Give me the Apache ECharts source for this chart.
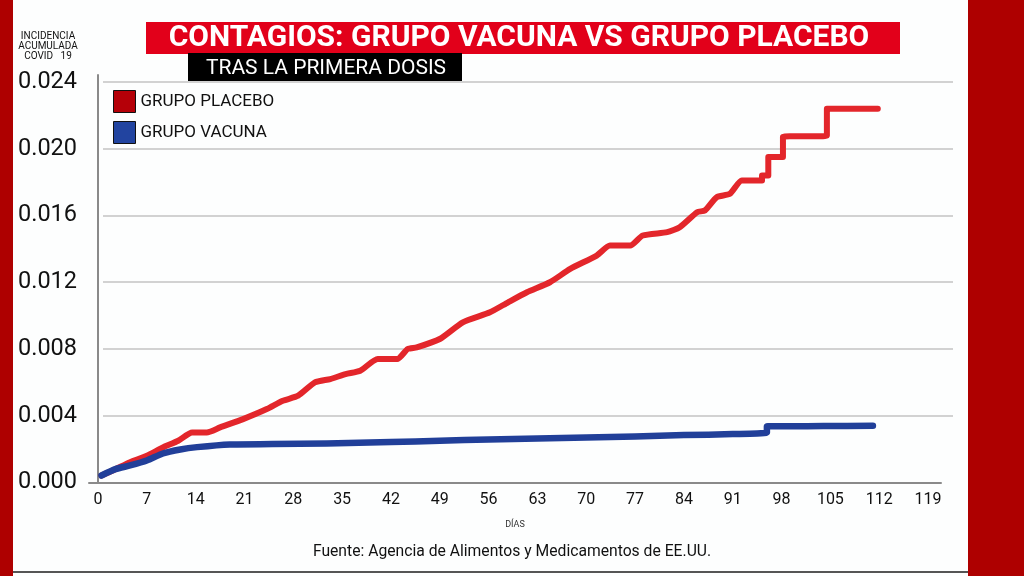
<!DOCTYPE html>
<html>
<head>
<meta charset="utf-8">
<script src="https://cdn.jsdelivr.net/npm/echarts@6/dist/echarts.min.js"></script>
<style>
html,body{margin:0;padding:0;background:#fdfefe;}
#c{width:1024px;height:576px;}
</style>
</head>
<body>
<div id="c"></div>
<script>
const titleText = 'CONTAGIOS: GRUPO VACUNA VS GRUPO PLACEBO';
const subtitleText = 'TRAS LA PRIMERA DOSIS';
const yAxisName = 'INCIDENCIA\nACUMULADA\nCOVID   19';
const xAxisName = 'DÍAS';
const sourceText = 'Fuente: Agencia de Alimentos y Medicamentos de EE.UU.';
const seriesNames = ['GRUPO PLACEBO', 'GRUPO VACUNA'];

const xTicks = [0, 7, 14, 21, 28, 35, 42, 49, 56, 63, 70, 77, 84, 91, 98, 105, 112, 119];
const yTicks = [0, 0.004, 0.008, 0.012, 0.016, 0.020, 0.024];

const placeboDays = [0.5, 2.5, 4.6, 7, 9.3, 11.5, 13.5, 15.6, 17.5, 20.8, 24.2, 26.5, 28.7, 31.1, 33.3, 35.5, 37.6, 40.1, 42.9, 44.4, 45.7, 49, 52.3, 56.2, 58.8, 61.5, 64.8, 67.7, 71.5, 73.4, 76.3, 78.1, 81.6, 83.4, 85.9, 87.0, 88.7, 90.6, 92.3, 95.2, 95.2, 96.1, 96.1, 98.2, 98.2, 104.5, 104.5, 111.8];
const placeboValues = [0.00042, 0.0008, 0.00122, 0.0016, 0.0021, 0.0025, 0.0030, 0.0030, 0.0033, 0.0038, 0.0044, 0.0049, 0.0052, 0.0060, 0.0062, 0.0065, 0.0067, 0.0074, 0.0074, 0.0080, 0.0081, 0.0086, 0.0096, 0.0102, 0.0108, 0.0114, 0.0120, 0.0128, 0.0136, 0.0142, 0.0142, 0.0148, 0.0150, 0.0153, 0.0162, 0.0163, 0.0171, 0.0173, 0.0181, 0.0181, 0.0184, 0.0184, 0.0195, 0.0195, 0.0207, 0.0208, 0.0224, 0.0224];

const vacunaDays = [0.5, 2.5, 4.6, 7, 9.3, 11.8, 14.2, 18.9, 25, 32.8, 42, 49, 56, 63, 70, 77, 84, 91, 95.9, 95.9, 104, 111.1];
const vacunaValues = [0.00042, 0.0008, 0.00102, 0.00132, 0.00174, 0.00198, 0.00212, 0.00228, 0.0023, 0.00234, 0.00242, 0.0025, 0.00258, 0.00264, 0.0027, 0.00276, 0.00284, 0.0029, 0.0030, 0.00336, 0.00338, 0.0034];

const pairs = (xs, ys) => xs.map((x, i) => [x, ys[i]]);

const chart = echarts.init(document.getElementById('c'), null, {renderer: 'canvas'});
const FONT = 'Roboto, sans-serif';

chart.setOption({
  backgroundColor: '#fdfefe',
  animation: false,
  textStyle: {fontFamily: FONT},
  grid: [
    {left: 89, right: 83, top: 75, bottom: 93.5, containLabel: false},
    {left: 103, right: 71, top: 82, bottom: 160.5, containLabel: false}
  ],
  xAxis: [
    {
      type: 'value', gridIndex: 0, min: -1.29, max: 120.86,
      name: xAxisName, nameLocation: 'middle', nameGap: 38,
      nameTextStyle: {fontSize: 9, color: '#333', fontFamily: FONT},
      axisLine: {show: true, lineStyle: {color: '#8a8a8a', width: 2}},
      axisTick: {show: false},
      splitLine: {show: false},
      axisLabel: {customValues: xTicks, fontSize: 16, color: '#111', margin: 9, fontFamily: FONT}
    },
    {type: 'value', gridIndex: 1, min: 0, max: 1, show: false}
  ],
  yAxis: [
    {
      type: 'value', gridIndex: 0, min: 0, max: 0.02442,
      axisLine: {show: true, lineStyle: {color: '#8a8a8a', width: 2}},
      axisTick: {show: false},
      splitLine: {show: false},
      axisLabel: {customValues: yTicks, fontSize: 23.5, color: '#111', margin: 12, fontFamily: FONT,
        formatter: v => v.toFixed(3)}
    },
    {
      type: 'value', gridIndex: 1, min: 0.004, max: 0.024, interval: 0.004,
      axisLine: {show: false}, axisTick: {show: false}, axisLabel: {show: false},
      splitLine: {show: true, lineStyle: {color: '#d2d2d2', width: 2}}
    }
  ],
  legend: {
    left: 113, top: 90, orient: 'vertical', padding: 0,
    itemWidth: 22, itemHeight: 22, itemGap: 8,
    icon: 'rect',
    textStyle: {fontSize: 17, color: '#111', fontFamily: FONT},
    data: [
      {name: seriesNames[0], itemStyle: {color: '#b50008', borderColor: '#111', borderWidth: 1}},
      {name: seriesNames[1], itemStyle: {color: '#2244a0', borderColor: '#111', borderWidth: 1}}
    ]
  },
  series: [
    {
      name: seriesNames[0], type: 'line', xAxisIndex: 0, yAxisIndex: 0,
      data: pairs(placeboDays, placeboValues),
      showSymbol: false, smooth: 0.2,
      itemStyle: {color: '#e3262b'},
      lineStyle: {color: '#e3262b', width: 6, cap: 'round', join: 'round'},
      z: 3
    },
    {
      name: seriesNames[1], type: 'line', xAxisIndex: 0, yAxisIndex: 0,
      data: pairs(vacunaDays, vacunaValues),
      showSymbol: false, smooth: 0.2,
      itemStyle: {color: '#213f99'},
      lineStyle: {color: '#213f99', width: 6.5, cap: 'round', join: 'round'},
      z: 4
    }
  ],
  graphic: [
    {type: 'rect', left: 0, top: 0, shape: {width: 13, height: 576}, style: {fill: '#ae0000'}, silent: true},
    {type: 'rect', left: 968, top: 0, shape: {width: 56, height: 576}, style: {fill: '#ae0000'}, silent: true},
    {type: 'rect', left: 13, top: 571, shape: {width: 955, height: 2}, style: {fill: '#555'}, silent: true},
    {type: 'rect', left: 146, top: 22, shape: {width: 754, height: 32}, style: {fill: '#e2001a'}, silent: true},
    {type: 'text', x: 519, y: 38.5, style: {text: titleText, fill: '#fff', font: 'bold 30px Roboto, sans-serif', textAlign: 'center', textVerticalAlign: 'middle'}, silent: true},
    {type: 'rect', left: 188, top: 53, shape: {width: 274, height: 30}, style: {fill: '#000'}, silent: true},
    {type: 'text', x: 326, y: 68.5, style: {text: subtitleText, fill: '#fff', font: '21px Roboto, sans-serif', textAlign: 'center', textVerticalAlign: 'middle'}, silent: true},
    {type: 'text', x: 48, y: 46.5, style: {text: yAxisName, fill: '#111', font: '10px Roboto, sans-serif', lineHeight: 9.7, textAlign: 'center', textVerticalAlign: 'middle'}, silent: true},
    {type: 'text', x: 512, y: 552, style: {text: sourceText, fill: '#111', font: '15.7px Roboto, sans-serif', textAlign: 'center', textVerticalAlign: 'middle'}, silent: true}
  ]
});
</script>
</body>
</html>
